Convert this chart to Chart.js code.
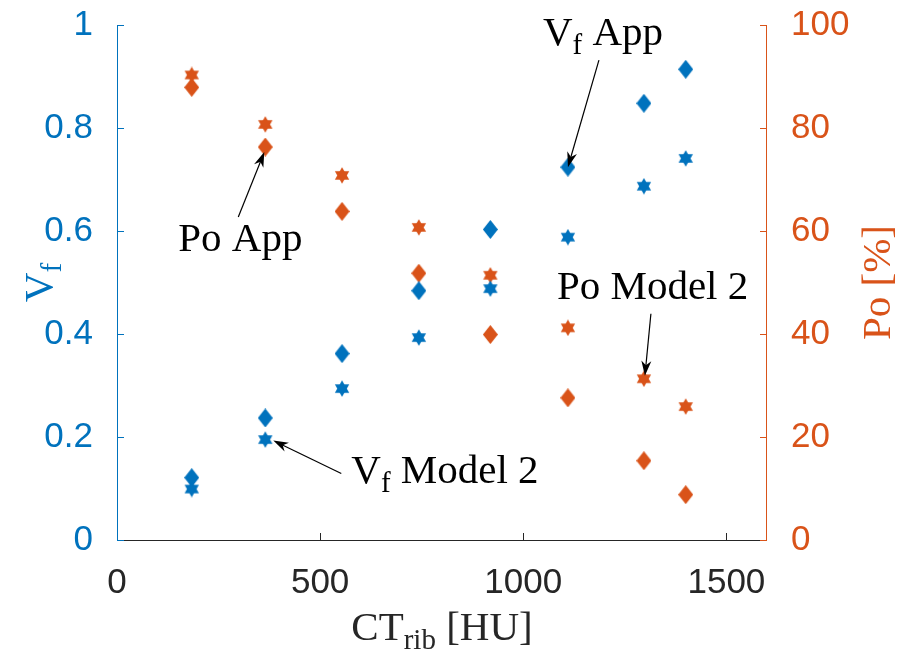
<!DOCTYPE html>
<html>
<head>
<meta charset="utf-8">
<script src="https://cdn.jsdelivr.net/npm/chart.js@4.4.1/dist/chart.umd.min.js"></script>
<style>
  html, body { margin: 0; padding: 0; background: #fff; }
  #wrap { width: 902px; height: 653px; }
</style>
</head>
<body>
<div id="wrap"><canvas id="chart" width="902" height="653"></canvas></div>
<script>
// values
const ctRib = [184, 365, 554, 743, 919, 1110, 1297, 1400];
const vfApp = [0.121, 0.237, 0.362, 0.484, 0.603, 0.724, 0.848, 0.914];
const vfModel2 = [0.099, 0.195, 0.294, 0.393, 0.488, 0.588, 0.687, 0.741];
const poApp = [87.9, 76.3, 63.8, 51.8, 39.9, 27.6, 15.4, 8.8];
const poModel2 = [90.3, 80.7, 70.8, 60.7, 51.4, 41.2, 31.3, 25.9];

const xTicks = [0, 500, 1000, 1500];
const vfTicks = [0, 0.2, 0.4, 0.6, 0.8, 1];
const poTicks = [0, 20, 40, 60, 80, 100];

const BLUE = '#0072BD';
const ORANGE = '#D95319';
const DARK = '#262626';
const SERIF = '"Liberation Serif", "DejaVu Serif", serif';
const SANS = '"Liberation Sans", Arial, sans-serif';

// marker images (matlab style diamond / hexagram)
function diamond(color) {
    const c = document.createElement('canvas');
    c.width = 15; c.height = 19;
    const g = c.getContext('2d');
    g.fillStyle = color;
    g.beginPath();
    g.moveTo(7.5, 0); g.lineTo(15, 9.5); g.lineTo(7.5, 19); g.lineTo(0, 9.5);
    g.closePath();
    g.fill();
    return c;
}

function hexagram(color) {
    const c = document.createElement('canvas');
    c.width = 16; c.height = 17;
    const g = c.getContext('2d');
    const r = 8.3, cx = 8, cy = 8.5;
    g.fillStyle = color;
    [-90, 90].forEach(start => {
        g.beginPath();
        for (let k = 0; k < 3; k++) {
            const a = (start + k * 120) * Math.PI / 180;
            const px = cx + r * Math.cos(a), py = cy + r * Math.sin(a);
            if (k === 0) g.moveTo(px, py); else g.lineTo(px, py);
        }
        g.closePath();
        g.fill();
    });
    return c;
}

const toPoints = (ys) => ctRib.map((x, i) => ({x: x, y: ys[i]}));

// arrows: which series/point, then pixel offsets from that point
const notes = [
    {ds: 0, idx: 5, text: [['V'], ['f', 1], [' App']], head: [0, 0], tail: [31, -107], at: [-25, -122]},
    {ds: 2, idx: 1, text: [['Po App']], head: [-1, 5], tail: [-27, 70], at: [-87, 104]},
    {ds: 3, idx: 6, text: [['Po Model 2']], head: [1, -3], tail: [7, -65], at: [-87, -80]},
    {ds: 1, idx: 1, text: [['V'], ['f', 1], [' Model 2']], head: [8, 1], tail: [76, 34], at: [86, 43]}
];

function drawRich(ctx, parts, x, y, size, align) {
    const sub = Math.round(size * 0.7);
    let w = 0;
    parts.forEach(p => {
        ctx.font = (p[1] ? sub : size) + 'px ' + SERIF;
        w += ctx.measureText(p[0]).width;
    });
    let cx = align === 'center' ? x - w / 2 : x;
    ctx.textAlign = 'left';
    ctx.textBaseline = 'alphabetic';
    parts.forEach(p => {
        ctx.font = (p[1] ? sub : size) + 'px ' + SERIF;
        ctx.fillText(p[0], cx, y + (p[1] ? size * 0.22 : 0));
        cx += ctx.measureText(p[0]).width;
    });
}

function arrow(ctx, x0, y0, x1, y1) {
    const ang = Math.atan2(y1 - y0, x1 - x0);
    const len = 15, half = 5;
    ctx.strokeStyle = '#000';
    ctx.lineWidth = 1.2;
    ctx.beginPath();
    ctx.moveTo(x0, y0);
    ctx.lineTo(x1 - Math.cos(ang) * len * 0.6, y1 - Math.sin(ang) * len * 0.6);
    ctx.stroke();
    const bx = x1 - Math.cos(ang) * len, by = y1 - Math.sin(ang) * len;
    const nx = -Math.sin(ang), ny = Math.cos(ang);
    ctx.fillStyle = '#000';
    ctx.beginPath();
    ctx.moveTo(x1, y1);
    ctx.lineTo(bx + nx * half, by + ny * half);
    ctx.lineTo(x1 - Math.cos(ang) * len * 0.7, y1 - Math.sin(ang) * len * 0.7);
    ctx.lineTo(bx - nx * half, by - ny * half);
    ctx.closePath();
    ctx.fill();
}

const axesPlugin = {
    id: 'matlabAxes',
    afterDraw(chart) {
        const ctx = chart.ctx;
        const a = chart.chartArea;
        const sx = chart.scales.x, sy = chart.scales.y, sy1 = chart.scales.y1;
        ctx.save();
        ctx.lineWidth = 1;
        // bottom axis
        ctx.strokeStyle = DARK;
        ctx.beginPath();
        ctx.moveTo(a.left, a.bottom + 0.5); ctx.lineTo(a.right, a.bottom + 0.5);
        xTicks.forEach(v => {
            const px = Math.round(sx.getPixelForValue(v)) + 0.5;
            ctx.moveTo(px, a.bottom); ctx.lineTo(px, a.bottom - 7);
        });
        ctx.stroke();
        // left axis
        ctx.strokeStyle = BLUE;
        ctx.beginPath();
        ctx.moveTo(a.left + 0.5, a.top); ctx.lineTo(a.left + 0.5, a.bottom + 1);
        vfTicks.forEach(v => {
            const py = Math.round(sy.getPixelForValue(v)) + 0.5;
            ctx.moveTo(a.left, py); ctx.lineTo(a.left + 7, py);
        });
        ctx.stroke();
        // right axis
        ctx.strokeStyle = ORANGE;
        ctx.beginPath();
        ctx.moveTo(a.right - 0.5, a.top); ctx.lineTo(a.right - 0.5, a.bottom + 1);
        poTicks.forEach(v => {
            const py = Math.round(sy1.getPixelForValue(v)) + 0.5;
            ctx.moveTo(a.right, py); ctx.lineTo(a.right - 7, py);
        });
        ctx.stroke();

        // axis titles
        ctx.fillStyle = DARK;
        drawRich(ctx, [['CT'], ['rib', 1], [' [HU]']], (a.left + a.right) / 2, 640, 41, 'center');

        ctx.save();
        ctx.translate(52, (a.top + a.bottom) / 2);
        ctx.rotate(-Math.PI / 2);
        ctx.fillStyle = BLUE;
        drawRich(ctx, [['V'], ['f', 1]], 0, 0, 41, 'center');
        ctx.restore();

        ctx.save();
        ctx.translate(890, (a.top + a.bottom) / 2);
        ctx.rotate(-Math.PI / 2);
        ctx.fillStyle = ORANGE;
        drawRich(ctx, [['Po [%]']], 0, 0, 41, 'center');
        ctx.restore();

        // annotations
        notes.forEach(n => {
            const el = chart.getDatasetMeta(n.ds).data[n.idx];
            const hx = el.x + n.head[0], hy = el.y + n.head[1];
            arrow(ctx, el.x + n.tail[0], el.y + n.tail[1], hx, hy);
            ctx.fillStyle = '#000';
            drawRich(ctx, n.text, el.x + n.at[0], el.y + n.at[1], 41, 'left');
        });
        ctx.restore();
    }
};

const fixTicks = (list) => (scale) => { scale.ticks = list.map(v => ({value: v})); };
const fitY = (w) => (s) => { s.width = w; s.paddingTop = 0; s.paddingBottom = 0; };

new Chart(document.getElementById('chart'), {
    type: 'scatter',
    data: {
        datasets: [
            {label: 'Vf App', data: toPoints(vfApp), yAxisID: 'y', pointStyle: diamond(BLUE), backgroundColor: BLUE},
            {label: 'Vf Model 2', data: toPoints(vfModel2), yAxisID: 'y', pointStyle: hexagram(BLUE), backgroundColor: BLUE},
            {label: 'Po App', data: toPoints(poApp), yAxisID: 'y1', pointStyle: diamond(ORANGE), backgroundColor: ORANGE},
            {label: 'Po Model 2', data: toPoints(poModel2), yAxisID: 'y1', pointStyle: hexagram(ORANGE), backgroundColor: ORANGE}
        ]
    },
    options: {
        responsive: false,
        animation: false,
        events: [],
        layout: {padding: {top: 25, left: 0, right: 0, bottom: 0}},
        plugins: {legend: {display: false}, tooltip: {enabled: false}},
        scales: {
            x: {
                type: 'linear', min: 0, max: 1600,
                afterBuildTicks: fixTicks(xTicks),
                afterFit: s => { s.height = 113; s.paddingLeft = 0; s.paddingRight = 0; },
                grid: {display: false}, border: {display: false},
                ticks: {color: DARK, padding: 14, maxRotation: 0, font: {family: SANS, size: 35}, callback: v => String(v)}
            },
            y: {
                position: 'left', min: 0, max: 1,
                afterBuildTicks: fixTicks(vfTicks),
                afterFit: fitY(117),
                grid: {display: false}, border: {display: false},
                ticks: {color: BLUE, padding: 16, font: {family: SANS, size: 35}, callback: v => String(+v.toFixed(1))}
            },
            y1: {
                position: 'right', min: 0, max: 100,
                afterBuildTicks: fixTicks(poTicks),
                afterFit: fitY(135),
                grid: {display: false}, border: {display: false},
                ticks: {color: ORANGE, padding: 16, font: {family: SANS, size: 35}, callback: v => String(v)}
            }
        }
    },
    plugins: [axesPlugin]
});
</script>
</body>
</html>
